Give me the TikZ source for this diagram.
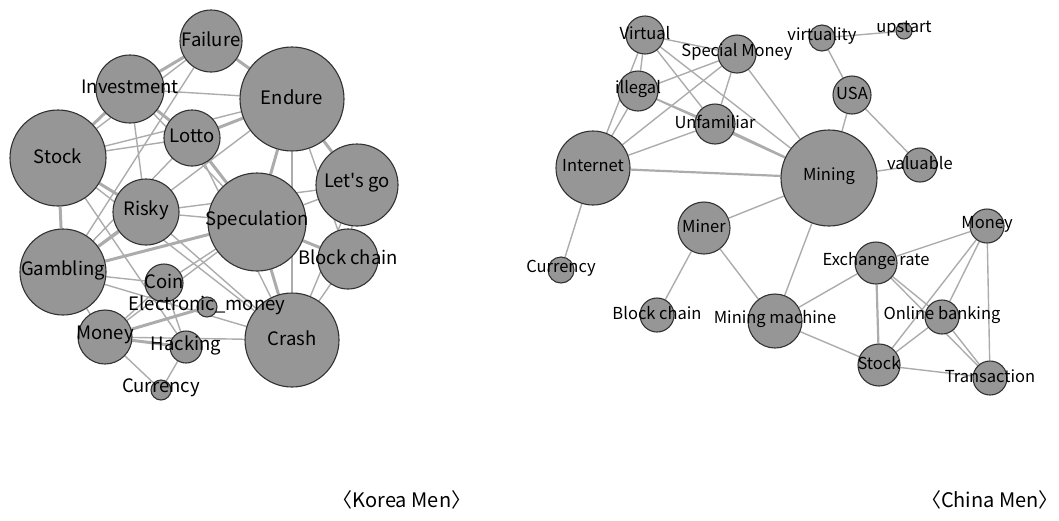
\documentclass[tikz,border=0pt]{standalone}
\usepackage{fontspec}
\setmainfont{Noto Sans CJK KR}[Ligatures=TeXOff]
\definecolor{nodefill}{RGB}{150,150,150}
\definecolor{nodeline}{RGB}{50,50,50}
\definecolor{linkgray}{RGB}{172,172,172}
\pgfdeclarelayer{bg}
\pgfsetlayers{bg,main}
\begin{document}
\begin{tikzpicture}[
    x=1pt, y=-1pt,
    vertex/.style={circle, draw=nodeline, fill=nodefill, line width=1.1pt, inner sep=0pt},
    kv/.style={vertex, label={[font=\fontsize{18.5}{21}\selectfont, yshift=2pt]center:#1}},
    cv/.style={vertex, label={[font=\fontsize{16.5}{19}\selectfont, yshift=2pt]center:#1}},
    link/.style={draw=linkgray, line width=1.4pt},
    heavy/.style={draw=linkgray, line width=3pt},
    caption/.style={font=\fontsize{20}{22}\selectfont}
]
    \useasboundingbox (0,0) rectangle (1059,520);

    % Korea Men
    \node[kv=Failure, minimum size=62pt] (kfail) at (211,41) {};
    \node[kv=Investment, minimum size=68pt] (kinv) at (130,89) {};
    \node[kv=Endure, minimum size=104pt] (kend) at (292,99) {};
    \node[kv=Lotto, minimum size=56pt] (klotto) at (192,138) {};
    \node[kv=Stock, minimum size=96pt] (kstock) at (58,158) {};
    \node[kv=Let's go, minimum size=82pt] (klets) at (357,185) {};
    \node[kv=Risky, minimum size=66pt] (krisky) at (146,212) {};
    \node[kv=Speculation, minimum size=98pt] (kspec) at (257,222) {};
    \node[kv=Block chain, minimum size=60pt] (kblock) at (348,259) {};
    \node[kv=Gambling, minimum size=86pt] (kgamb) at (63,272) {};
    \node[kv=Coin, minimum size=38pt] (kcoin) at (164,283) {};
    \node[kv=Money, minimum size=54pt] (kmoney) at (105,337) {};
    \node[kv=Crash, minimum size=94pt] (kcrash) at (292,340) {};
    \node[kv=Hacking, minimum size=32pt] (khack) at (186,347) {};
    \node[kv=Electronic\_money, minimum size=20pt] (kemoney) at (207,307) {};
    \node[kv=Currency, minimum size=20pt] (kcurr) at (161,390) {};

    % China Men
    \node[cv=Virtual, minimum size=38pt] (cvirt) at (645,35) {};
    \node[cv=Special Money, minimum size=38pt] (cspec) at (737,54) {};
    \node[cv=illegal, minimum size=40pt] (cilleg) at (638,91) {};
    \node[cv=Unfamiliar, minimum size=40pt] (cunfam) at (715,124) {};
    \node[cv=Internet, minimum size=74pt] (cinet) at (593,168) {};
    \node[cv=Mining, minimum size=96pt] (cmining) at (829,178) {};
    \node[cv=virtuality, minimum size=26pt] (cvirty) at (822,38) {};
    \node[cv=upstart, minimum size=16pt] (cup) at (904,31) {};
    \node[cv=USA, minimum size=38pt] (cusa) at (852,95) {};
    \node[cv=valuable, minimum size=34pt] (cval) at (920,165) {};
    \node[cv=Currency, minimum size=26pt] (ccurr) at (561,270) {};
    \node[cv=Miner, minimum size=52pt] (cminer) at (704,228) {};
    \node[cv=Block chain, minimum size=34pt] (cblock) at (657,315) {};
    \node[cv=Mining machine, minimum size=54pt] (cmach) at (775,321) {};
    \node[cv=Exchange rate, minimum size=42pt] (cexch) at (876,263) {};
    \node[cv=Money, minimum size=34pt] (cmoney) at (987,226) {};
    \node[cv=Online banking, minimum size=34pt] (conline) at (942,317) {};
    \node[cv=Stock, minimum size=42pt] (cstock) at (879,365) {};
    \node[cv=Transaction, minimum size=34pt] (ctrans) at (990,378) {};

    \node[caption] (kcap) at (402,500) {〈Korea Men〉};
    \node[caption] (ccap) at (990,500) {〈China Men〉};

    \begin{pgfonlayer}{bg}
    % Korea links
    \draw[heavy] (kstock) -- (kinv);
    \draw[heavy] (kinv) -- (kfail);
    \draw[heavy] (kfail) -- (kend);
    \draw[heavy] (klotto) -- (kend);
    \draw[heavy] (kinv) -- (klotto);
    \draw[heavy] (klotto) -- (kspec);
    \draw[heavy] (kend) -- (kspec);
    \draw[heavy] (kend) -- (klets);
    \draw[heavy] (kspec) -- (kblock);
    \draw[heavy] (kspec) -- (kcrash);
    \draw[heavy] (kgamb) -- (kspec);
    \draw[heavy] (kgamb) -- (krisky);
    \draw[heavy] (kstock) -- (kgamb);
    \draw[heavy] (kmoney) -- (kemoney);
    \draw[heavy] (kmoney) -- (khack);
    \draw[heavy] (kstock) -- (krisky);
    \draw[link] (kstock) -- (kfail);
    \draw[link] (kinv) -- (kend);
    \draw[link] (kfail) -- (kgamb);
    \draw[link] (kstock) -- (klotto);
    \draw[link] (kstock) -- (kend);
    \draw[link] (kinv) -- (krisky);
    \draw[link] (kinv) -- (kspec);
    \draw[link] (kgamb) -- (kend);
    \draw[link] (kgamb) -- (klotto);
    \draw[link] (kend) -- (kcrash);
    \draw[link] (kend) -- (kblock);
    \draw[link] (klotto) -- (kcrash);
    \draw[link] (kspec) -- (klets);
    \draw[link] (krisky) -- (klets);
    \draw[link] (kcrash) -- (kblock);
    \draw[link] (kcrash) -- (klets);
    \draw[link] (klets) -- (kblock);
    \draw[link] (krisky) -- (kspec);
    \draw[link] (krisky) -- (kcrash);
    \draw[link] (kstock) -- (kcrash);
    \draw[link] (kstock) -- (khack);
    \draw[link] (kgamb) -- (kcoin);
    \draw[link] (kgamb) -- (kcrash);
    \draw[link] (kgamb) -- (kmoney);
    \draw[link] (kcoin) -- (kmoney);
    \draw[link] (kcoin) -- (khack);
    \draw[link] (kcoin) -- (kspec);
    \draw[link] (kmoney) -- (kspec);
    \draw[link] (kmoney) -- (kcrash);
    \draw[link] (kmoney) -- (kcurr);
    \draw[link] (khack) -- (kcurr);

    % China links
    \draw[link] (cvirt) -- (cilleg);
    \draw[link] (cvirt) -- (cinet);
    \draw[link] (cvirt) -- (cspec);
    \draw[link] (cvirt) -- (cunfam);
    \draw[link] (cvirt) -- (cmining);
    \draw[link] (cspec) -- (cilleg);
    \draw[link] (cspec) -- (cinet);
    \draw[link] (cspec) -- (cunfam);
    \draw[link] (cspec) -- (cmining);
    \draw[link] (cilleg) -- (cinet);
    \draw[link] (cilleg) -- (cunfam);
    \draw[link] (cilleg) -- (cmining);
    \draw[link] (cunfam) -- (cinet);
    \draw[link, line width=2pt] (cunfam) -- (cmining);
    \draw[link, line width=2.2pt] (cinet) -- (cmining);
    \draw[link] (cinet) -- (ccurr);
    \draw[link] (cvirty) -- (cup);
    \draw[link] (cvirty) -- (cusa);
    \draw[link] (cusa) -- (cmining);
    \draw[link] (cusa) -- (cval);
    \draw[link] (cmining) -- (cval);
    \draw[link] (cmining) -- (cminer);
    \draw[link] (cmining) -- (cmach);
    \draw[link] (cminer) -- (cblock);
    \draw[link] (cminer) -- (cmach);
    \draw[link] (cmach) -- (cexch);
    \draw[link] (cmach) -- (cstock);
    \draw[link] (cexch) -- (cmoney);
    \draw[link, line width=2.2pt] (cexch) -- (cstock);
    \draw[link] (cexch) -- (conline);
    \draw[link] (cexch) -- (ctrans);
    \draw[link] (conline) -- (ctrans);
    \draw[link] (cmoney) -- (cstock);
    \draw[link] (cmoney) -- (conline);
    \draw[link] (cmoney) -- (ctrans);
    \draw[link] (conline) -- (cstock);
    \draw[link] (cstock) -- (ctrans);
    \end{pgfonlayer}
\end{tikzpicture}
\end{document}
